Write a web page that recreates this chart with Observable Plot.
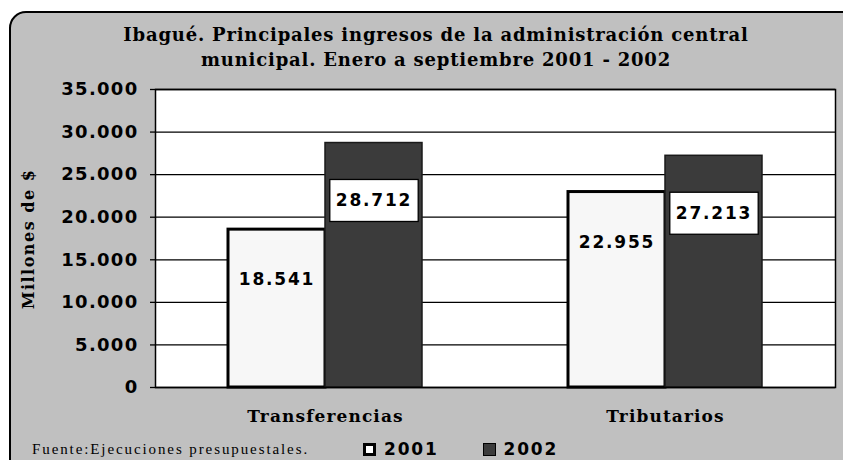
<!DOCTYPE html>
<html>
<head>
<meta charset="utf-8">
<script src="https://cdn.jsdelivr.net/npm/d3@7"></script>
<script src="https://cdn.jsdelivr.net/npm/@observablehq/plot@0.6"></script>
<style>
  html, body { margin: 0; padding: 0; background: #fff; overflow: hidden; }
  #wrap { position: relative; width: 843px; height: 460px; overflow: hidden; }
  #panel { position: absolute; left: 9px; top: 11px; width: 852px; height: 472px; box-sizing: border-box;
           border: 2px solid #000; border-radius: 17px; background: #c0c0c0; }
  #title { position: absolute; left: 0; top: 22px; width: 872px; text-align: center;
           font-family: "DejaVu Serif", serif; font-weight: bold; font-size: 18px; line-height: 25px;
           letter-spacing: 0.8px; color: #000; }
  #chart { position: absolute; left: 0; top: 0; }
  #ylabel { position: absolute; left: 28px; top: 239px; transform: translate(-50%, -50%) rotate(-90deg);
            white-space: nowrap; font-family: "DejaVu Serif", serif; font-weight: bold; font-size: 16px;
            letter-spacing: 1.5px; color: #000; }
  #footer { position: absolute; left: 32px; top: 441px; font-family: "Liberation Serif", serif; font-size: 15px;
            line-height: 17px; letter-spacing: 1.9px; color: #000; white-space: nowrap; }
  #legend { position: absolute; left: 363px; top: 439px; height: 20px; display: flex; align-items: center;
            font-family: "DejaVu Sans", sans-serif; font-weight: bold; font-size: 17px; line-height: 20px;
            letter-spacing: 1.8px; color: #000; }
  .sw { box-sizing: border-box; width: 13px; height: 13px; margin-right: 8px; }
  .item { display: flex; align-items: center; margin-right: 44px; }
</style>
</head>
<body>
<div id="wrap">
  <div id="panel"></div>
  <div id="title"></div>
  <div id="chart"></div>
  <div id="ylabel"></div>
  <div id="footer"></div>
  <div id="legend"></div>
</div>
<script>
// ---- data ----
const titleLines = ["Ibagué. Principales ingresos de la administración central", "municipal. Enero a septiembre 2001 - 2002"];
const yLabel = "Millones de $";
const sourceNote = "Fuente:Ejecuciones presupuestales.";
const categories = ["Transferencias", "Tributarios"];
const years = ["2001", "2002"];
const values2001 = [18541, 22955];
const values2002 = [28712, 27213];
const yTicks = [0, 5000, 10000, 15000, 20000, 25000, 30000, 35000];

// ---- styles ----
const fills = {"2001": "#f7f7f7", "2002": "#3b3b3b"};
const swatchFills = {"2001": "#ffffff", "2002": "#3b3b3b"};
const strokes = {"2001": "#000", "2002": "#1a1a1a"};
const strokeWidths = {"2001": 3, "2002": 1.5};
const swatchBorders = {"2001": 3, "2002": 1};
const labelOffsets = {"2001": 50, "2002": 58};

const rows = [];
categories.forEach((c, i) => {
  rows.push({cat: c, year: years[0], value: values2001[i]});
  rows.push({cat: c, year: years[1], value: values2002[i]});
});

const locale = d3.formatLocale({decimal: ",", thousands: ".", grouping: [3], currency: ["$", ""]});
const fmt = locale.format(",d");

document.getElementById("title").innerHTML = titleLines.join("<br>");
document.getElementById("ylabel").textContent = yLabel;
document.getElementById("footer").textContent = sourceNote;
const legend = document.getElementById("legend");
years.forEach(y => {
  const item = document.createElement("div");
  item.className = "item";
  const sw = document.createElement("div");
  sw.className = "sw";
  sw.style.background = swatchFills[y];
  sw.style.border = swatchBorders[y] + "px solid #000";
  const t = document.createElement("span");
  t.textContent = y;
  item.append(sw, t);
  legend.append(item);
});

const font = {fontFamily: "DejaVu Sans", fontWeight: "bold", fontSize: 17};

const barMarks = years.map(y => Plot.barY(rows.filter(d => d.year === y), {
  fx: "cat", x: "year", y: "value", inset: 0,
  fill: fills[y], stroke: strokes[y], strokeWidth: strokeWidths[y]
}));

const chart = Plot.plot({
  width: 843, height: 460,
  marginLeft: 155, marginRight: 8, marginTop: 89, marginBottom: 73,
  style: {background: "transparent", overflow: "visible"},
  fx: {domain: categories, padding: 0, axis: null, label: null},
  x: {domain: years, paddingInner: 0, paddingOuter: 0.745, axis: null},
  y: {domain: [0, 35000], axis: null},
  marks: [
    Plot.frame({facet: "super", fill: "white"}),
    Plot.ruleY(yTicks, {stroke: "#000", strokeWidth: 1.3}),
    ...barMarks,
    ...years.map(y => Plot.text(rows.filter(d => d.year === y), {
      fx: "cat", x: "year", y: "value", text: d => fmt(d.value), dy: labelOffsets[y],
      fill: "#000", ariaDescription: "labels-" + y, ...font
    })),
    Plot.axisY({ticks: yTicks, tickFormat: fmt, tickSize: 5, tickPadding: 12, label: null,
      stroke: "#000", strokeWidth: 1.3,
      fontFamily: "DejaVu Sans", fontWeight: "bold", fontSize: 18}),
    Plot.axisFx({anchor: "bottom", tickSize: 0, tickPadding: 22, label: null,
      fontFamily: "DejaVu Serif", fontWeight: "bold", fontSize: 17}),
    Plot.frame({facet: "super", stroke: "#000", strokeWidth: 1.5})
  ]
});
document.getElementById("chart").append(chart);

chart.querySelectorAll('[aria-label="y-axis tick label"] text').forEach(t => t.style.letterSpacing = "1.3px");
chart.querySelectorAll('[aria-description^="labels-"] text').forEach(t => t.style.letterSpacing = "1.8px");
chart.querySelectorAll('[aria-label="fx-axis tick label"] text').forEach(t => t.style.letterSpacing = "1.1px");
// white boxes behind the 2002 value labels
const NS = "http://www.w3.org/2000/svg";
chart.querySelectorAll('[aria-description="labels-2002"] text').forEach(t => {
  const b = t.getBBox();
  const w = b.width + 12, h = 42;
  const r = document.createElementNS(NS, "rect");
  r.setAttribute("x", b.x + b.width / 2 - w / 2);
  r.setAttribute("y", b.y + b.height / 2 - h / 2);
  r.setAttribute("width", w);
  r.setAttribute("height", h);
  r.setAttribute("fill", "#fff");
  r.setAttribute("stroke", "#000");
  r.setAttribute("stroke-width", "1.3");
  const tr = t.getAttribute("transform");
  if (tr) r.setAttribute("transform", tr);
  t.parentNode.insertBefore(r, t);
});
</script>
</body>
</html>
